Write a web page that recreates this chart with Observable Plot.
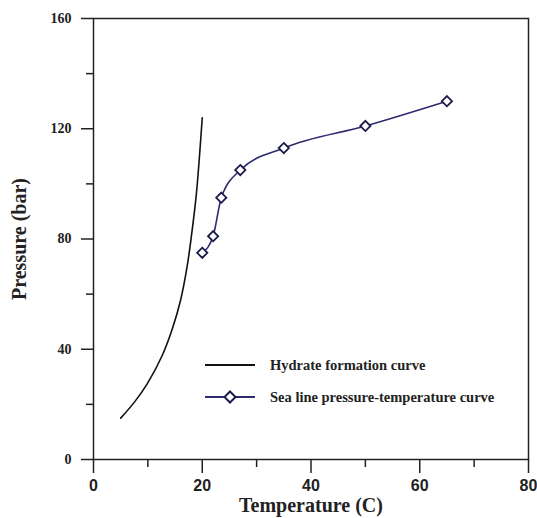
<!DOCTYPE html>
<html>
<head>
<meta charset="utf-8">
<script src="https://cdn.jsdelivr.net/npm/d3@7"></script>
<script src="https://cdn.jsdelivr.net/npm/@observablehq/plot@0.6"></script>
<style>
  html, body { margin: 0; padding: 0; background: #fff; }
  #wrap { position: relative; width: 537px; height: 518px; }
  #legend { position: absolute; left: 205px; top: 356px; font-family: "Liberation Serif", "Times New Roman", serif; font-weight: bold; font-size: 14.5px; color: #222; }
  .item { display: flex; align-items: center; height: 18px; margin-bottom: 14px; }
  .item svg { margin-right: 15px; }
</style>
</head>
<body>
<div id="wrap"></div>
<script>
// Hydrate formation curve (temperature °C, pressure bar)
const hydrateT = [5, 7.6, 9.9, 12.7, 14.5, 16, 17.2, 18, 18.9, 20];
const hydrateP = [15, 21, 27.5, 38, 47.4, 57.7, 69.8, 81, 96, 124];
// Sea line pressure-temperature curve
const seaT = [20, 22, 23.5, 27, 35, 50, 65];
const seaP = [75, 81, 95, 105, 113, 121, 130];
// Ticks
const xMajor = [0, 20, 40, 60, 80];
const xMinor = [10, 30, 50, 70];
const yMajor = [0, 40, 80, 120, 160];
const yMinor = [20, 60, 100, 140];
const seriesNames = ["Hydrate formation curve", "Sea line pressure-temperature curve"];

const seaColor = "#2e2b6e";
const hydrate = hydrateT.map((t, i) => ({t, p: hydrateP[i]}));
const sea = seaT.map((t, i) => ({t, p: seaP[i]}));

const serif = "'Liberation Serif', 'Times New Roman', serif";
const sans = "'Liberation Sans', Arial, sans-serif";

const chart = Plot.plot({
  width: 537,
  height: 518,
  marginLeft: 93,
  marginRight: 9,
  marginTop: 18,
  marginBottom: 59,
  x: {domain: [0, 80]},
  y: {domain: [0, 160]},
  style: {background: "#fff", color: "#222"},
  marks: [
    Plot.frame({stroke: "#222", strokeWidth: 1.5}),
    Plot.axisX({ticks: xMinor, tickSize: 8, text: null, label: null, strokeWidth: 1.5}),
    Plot.axisX({ticks: xMajor, tickSize: 14, tickPadding: 6, tickFormat: d => String(d), label: null,
      fontFamily: sans, fontWeight: "bold", fontSize: 16, strokeWidth: 1.5}),
    Plot.axisX({ticks: [], label: "Temperature (C)", labelAnchor: "center", labelArrow: "none", labelOffset: 52,
      fontFamily: serif, fontWeight: "bold", fontSize: 20}),
    Plot.axisY({ticks: yMinor, tickSize: 7, text: null, label: null, strokeWidth: 1.5}),
    Plot.axisY({ticks: yMajor, tickSize: 12, tickPadding: 10, tickFormat: d => String(d), label: null,
      fontFamily: serif, fontWeight: "bold", fontSize: 14, strokeWidth: 1.5}),
    Plot.axisY({ticks: [], label: "Pressure (bar)", labelAnchor: "center", labelArrow: "none", labelOffset: 82,
      fontFamily: serif, fontWeight: "bold", fontSize: 20}),
    Plot.line(hydrate, {x: "t", y: "p", stroke: "#111", strokeWidth: 1.6, curve: "catmull-rom"}),
    Plot.line(sea, {x: "t", y: "p", stroke: seaColor, strokeWidth: 1.6, curve: "monotone-x"}),
    Plot.dot(sea, {x: "t", y: "p", symbol: "diamond2", r: 4.6, fill: "#fff", stroke: "#1c1a4a", strokeWidth: 1.8})
  ]
});

const wrap = document.getElementById("wrap");
wrap.appendChild(chart);

const legend = document.createElement("div");
legend.id = "legend";
legend.innerHTML = `
  <div class="item"><svg width="50" height="16"><line x1="0" x2="50" y1="8" y2="8" stroke="#111" stroke-width="1.8"/></svg><span>${seriesNames[0]}</span></div>
  <div class="item"><svg width="50" height="16"><line x1="0" x2="50" y1="8" y2="8" stroke="${seaColor}" stroke-width="1.8"/><path d="M25,2.5L30.5,8L25,13.5L19.5,8Z" fill="#fff" stroke="#1c1a4a" stroke-width="2"/></svg><span>${seriesNames[1]}</span></div>`;
wrap.appendChild(legend);
</script>
</body>
</html>
